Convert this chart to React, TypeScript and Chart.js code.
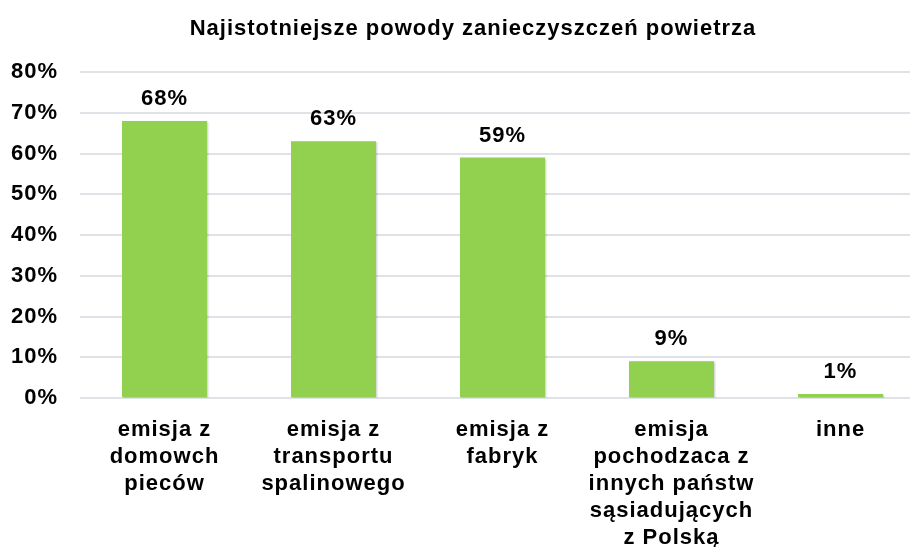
import React, { useEffect, useRef } from "react";
import { Chart, registerables } from "chart.js";

Chart.register(...registerables);

const TITLE = "Najistotniejsze powody zanieczyszczeń powietrza";
const categories: string[][] = [
  ["emisja z", "domowch", "pieców"],
  ["emisja z", "transportu", "spalinowego"],
  ["emisja z", "fabryk"],
  ["emisja", "pochodzaca z", "innych państw", "sąsiadujących", "z Polską"],
  ["inne"],
];
const values: number[] = [68, 63, 59, 9, 1];
const yMin = 0;
const yMax = 80;
const yStep = 10;

const FONT = "'Liberation Sans', Arial, Helvetica, sans-serif";
const BAR_COLOR = "#92D050";

const spacingPlugin = {
  id: "spacing",
  beforeUpdate(chart: any) {
    chart.ctx.letterSpacing = "1px";
  },
  beforeDraw(chart: any) {
    chart.ctx.letterSpacing = "1px";
  },
  beforeDatasetsDraw(chart: any) {
    const ctx = chart.ctx;
    ctx.save();
    ctx.shadowColor = "rgba(0,0,0,0.22)";
    ctx.shadowBlur = 2;
    ctx.shadowOffsetX = 1;
    ctx.shadowOffsetY = 1;
  },
  afterDatasetsDraw(chart: any) {
    const ctx = chart.ctx;
    ctx.restore();
    ctx.save();
    ctx.letterSpacing = "1px";
    ctx.font = `bold 22px ${FONT}`;
    ctx.fillStyle = "#000";
    ctx.textAlign = "center";
    ctx.textBaseline = "alphabetic";
    const meta = chart.getDatasetMeta(0);
    meta.data.forEach((bar: any, i: number) => {
      ctx.fillText(values[i] + "%", bar.x, bar.y - 16);
    });
    // title
    ctx.textBaseline = "middle";
    ctx.fillText(TITLE, chart.width / 2, chart.chartArea.top - 43);
    ctx.restore();
  },
};

export default function App() {
  const ref = useRef<HTMLCanvasElement | null>(null);
  useEffect(() => {
    if (!ref.current) return;
    const chart = new Chart(ref.current, {
      type: "bar",
      data: {
        labels: categories,
        datasets: [
          {
            data: values,
            backgroundColor: BAR_COLOR,
            borderWidth: 0,
            categoryPercentage: 1,
            barPercentage: 0.503,
          },
        ],
      },
      options: {
        animation: false,
        responsive: false,
        devicePixelRatio: 1,
        layout: { padding: { left: 0, right: 21, top: 72, bottom: 0 } },
        plugins: {
          legend: { display: false },
          tooltip: { enabled: false },
          title: { display: false },
        },
        scales: {
          x: {
            grid: { display: false, drawTicks: false },
            border: { display: false },
            ticks: {
              color: "#000",
              font: { family: FONT, size: 22, weight: "bold", lineHeight: 1.23 },
              padding: 18,
              maxRotation: 0,
              minRotation: 0,
              autoSkip: false,
            },
            afterFit(scale: any) {
              scale.height = 149;
            },
          },
          y: {
            min: yMin,
            max: yMax,
            grid: { color: "#dfe3e8", lineWidth: 2, drawTicks: false },
            border: { display: false },
            ticks: {
              stepSize: yStep,
              color: "#000",
              padding: 22,
              font: { family: FONT, size: 22, weight: "bold" },
              callback: (v: any) => v + "%",
            },
            afterFit(scale: any) {
              scale.width = 80;
            },
          },
        },
      },
      plugins: [spacingPlugin],
    } as any);
    return () => chart.destroy();
  }, []);
  return (
    <div
      style={{
        position: "absolute",
        left: 0,
        top: 0,
        width: 910,
        height: 547,
        overflow: "hidden",
        background: "#fff",
      }}
    >
      <canvas ref={ref} width={946} height={547} style={{ display: "block" }} />
    </div>
  );
}
